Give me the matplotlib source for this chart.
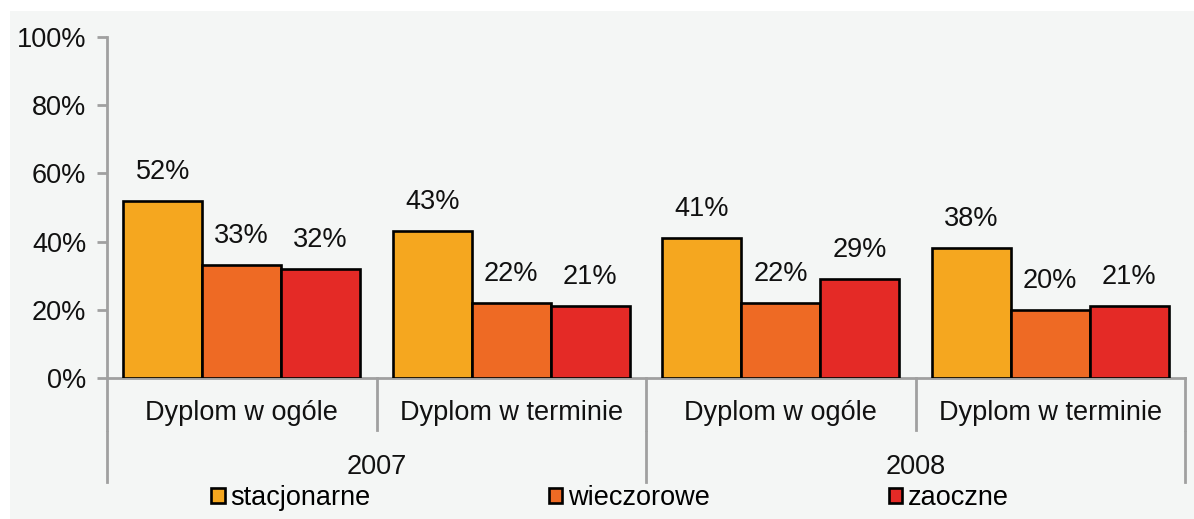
import matplotlib
matplotlib.use("Agg")
import matplotlib.pyplot as plt
import numpy as np
from matplotlib.patches import Rectangle, Patch
from matplotlib.lines import Line2D

plt.rcParams['font.family'] = ['Liberation Sans', 'DejaVu Sans']

categories = ["Dyplom w ogóle", "Dyplom w terminie", "Dyplom w ogóle", "Dyplom w terminie"]
years = ["2007", "2008"]
series_names = ["stacjonarne", "wieczorowe", "zaoczne"]
stacjonarne = [52, 43, 41, 38]
wieczorowe = [33, 22, 22, 20]
zaoczne = [32, 21, 29, 21]
yticks = [0, 20, 40, 60, 80, 100]
colors = ["#F5A71F", "#EE6A24", "#E42A26"]

W, H = 1194, 519
fig = plt.figure(figsize=(W / 100, H / 100), dpi=100, facecolor="white")
fig.patches.append(Rectangle((10 / W, 0), 1 - 10 / W, 1 - 11 / H, transform=fig.transFigure,
                             facecolor="#F4F6F5", edgecolor="none", zorder=-5))

ax = fig.add_axes([107 / W, (H - 378) / H, (1185 - 107) / W, (378 - 37) / H])
ax.set_facecolor("none")

fs = 19.5
grey = "#A0A0A0"
n = len(categories)
x = np.arange(n) + 0.5
bw = 0.293
for i, (vals, c) in enumerate(zip([stacjonarne, wieczorowe, zaoczne], colors)):
    xs = x + (i - 1) * bw
    ax.bar(xs, vals, width=bw, color=c, edgecolor="black", linewidth=1.9, zorder=3)
    for xx, v in zip(xs, vals):
        ax.annotate(f"{v}%", (xx, v), xytext=(0, 11.5), textcoords="offset points",
                    ha="center", va="bottom", fontsize=fs, color="#111111")

ax.set_xlim(0, n)
ax.set_ylim(0, 100)
ax.set_yticks(yticks)
ax.set_yticklabels([f"{t}%" for t in yticks], fontsize=fs, color="#111111")
ax.set_xticks([])
for s in ["top", "right"]:
    ax.spines[s].set_visible(False)
ax.spines["left"].set_color(grey)
ax.spines["left"].set_linewidth(2)
ax.spines["bottom"].set_color(grey)
ax.spines["bottom"].set_linewidth(2)
ax.tick_params(axis="y", direction="out", length=7, width=2, color=grey, pad=8)

trans = ax.get_xaxis_transform()
px = 1 / (378 - 37)  # axes fraction per pixel (vertical)
# category separators
for b in range(n + 1):
    ax.add_line(Line2D([b, b], [0, -52 * px], transform=trans, color=grey, lw=2, clip_on=False))
for b in [0, 2, 4]:
    ax.add_line(Line2D([b, b], [-54 * px, -104 * px], transform=trans, color=grey, lw=2, clip_on=False))
for xx, lab in zip(x, categories):
    ax.text(xx, -35 * px, lab, transform=trans, ha="center", va="center", fontsize=fs, color="#111111")
for j, yr in enumerate(years):
    ax.text(2 * j + 1, -89 * px, yr, transform=trans, ha="center", va="center", fontsize=fs, color="#111111")

handles = [Patch(facecolor=c, edgecolor="black", linewidth=1.9) for c in colors]
fig.legend(handles, series_names, loc="center left", bbox_to_anchor=(211 / W, 1 - 498 / H),
           ncol=3, frameon=False, fontsize=fs, handlelength=0.5, handleheight=0.5,
           handletextpad=0.2, columnspacing=6.6, borderaxespad=0, borderpad=0)

fig.savefig("out.png", dpi=100, facecolor=fig.get_facecolor())
